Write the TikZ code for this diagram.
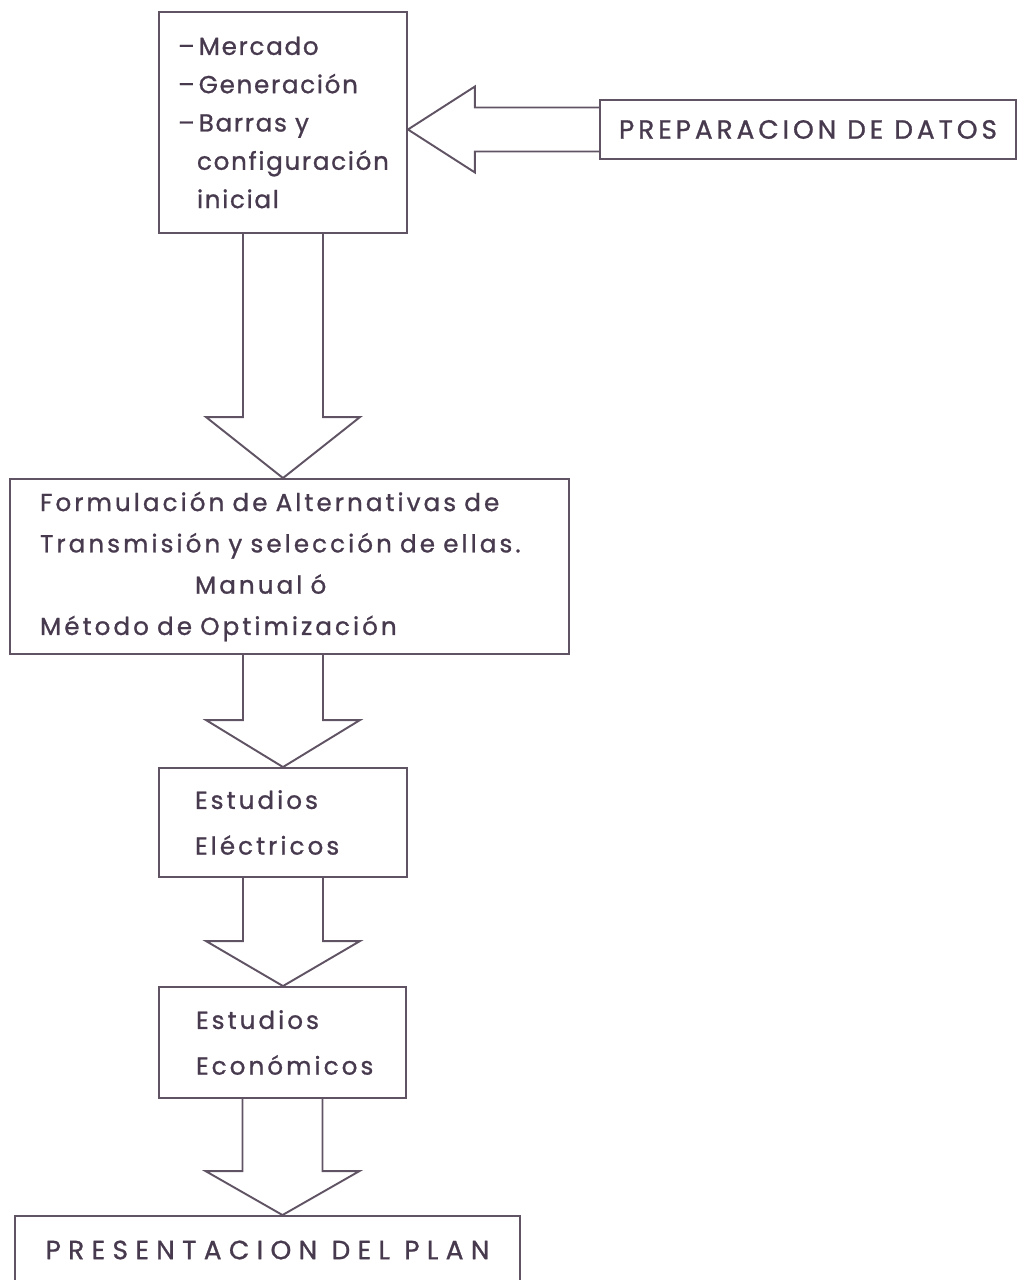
\documentclass[tikz,border=0pt]{standalone}
\usepackage{fontspec}
\setmainfont{Poppins}[LetterSpace=12.5,FakeBold=1]
\usepackage{tikz}
\usetikzlibrary{calc}
\definecolor{tinta}{RGB}{72,58,78}
\definecolor{trazo}{RGB}{96,84,100}
\tikzset{
	caja/.style={rectangle,draw=trazo,line width=1.1pt,text=tinta,align=left,inner ysep=0pt,
		font=\fontsize{14}{22}\selectfont},
	titulo/.style={caja,align=center,font=\fontsize{15}{17}\selectfont\addfontfeature{LetterSpace=15}},
	bloque/.style={draw=trazo,line width=1.1pt,line join=miter}
}
\newcommand{\flechabajo}[4]{%
	\path (#1.south -| #3) coordinate (s) (#2.north -| #3) coordinate (t);
	\draw[bloque] ($(s)+(-40,0)$) -- ($(t)+(-40,-#4)$) -- ($(t)+(-77,-#4)$) -- (t)
		-- ($(t)+(77,-#4)$) -- ($(t)+(40,-#4)$) -- ($(s)+(40,0)$);}

\begin{document}
\begin{tikzpicture}[x=0.02cm,y=-0.02cm]
	\useasboundingbox (0,0) rectangle (1017,1280);

	\node[caja,minimum width=4.96cm,minimum height=4.42cm,text width=4.2cm,inner xsep=0.38cm,
		font=\fontsize{14}{21.8}\selectfont\addfontfeature{LetterSpace=7}] (entrada) at (283,122.5)
		{--\,Mercado\\--\,Generación\\--\,Barras y\\\hspace*{0.38cm}\mbox{configuración}\\\hspace*{0.38cm}inicial};
	\node[titulo,minimum width=8.32cm,minimum height=1.18cm] (datos) at (808,129.5) {PREPARACION DE DATOS};

	\node[caja,minimum width=11.18cm,minimum height=3.5cm,text width=9.98cm,inner xsep=0.6cm,
		font=\fontsize{14}{23.5}\selectfont] (alternativas) at (289.5,566.5)
		{Formulación de Alternativas de\\Transmisión y selección de ellas.\\\hspace*{3.1cm}Manual ó\\Método de Optimización};

	\node[caja,minimum width=4.96cm,minimum height=2.18cm,text width=3.52cm,inner xsep=0.72cm,
		font=\fontsize{14}{26}\selectfont] (electricos) at (283,822.5) {Estudios\\Eléctricos};
	\node[caja,minimum width=4.94cm,minimum height=2.22cm,text width=3.46cm,inner xsep=0.74cm,
		font=\fontsize{14}{26}\selectfont] (economicos) at (282.5,1042.5) {Estudios\\Económicos};

	\node[titulo,minimum width=10.1cm,minimum height=1.36cm,
		font=\fontsize{15}{17}\selectfont\addfontfeature{LetterSpace=28}] (plan) at (267.5,1250) {PRESENTACION DEL PLAN};

	\path (datos.west) coordinate (d) (entrada.east |- datos.west) coordinate (e);
	\draw[bloque] ($(d)+(0,-22)$) -- ($(e)+(67,-22)$) -- ($(e)+(67,-43)$) -- (e)
		-- ($(e)+(67,43)$) -- ($(e)+(67,22)$) -- ($(d)+(0,22)$);

	\flechabajo{entrada}{alternativas}{entrada}{61}
	\flechabajo{alternativas}{electricos}{electricos}{47}
	\flechabajo{electricos}{economicos}{electricos}{45}
	\flechabajo{economicos}{plan}{economicos}{44}
\end{tikzpicture}
\end{document}
